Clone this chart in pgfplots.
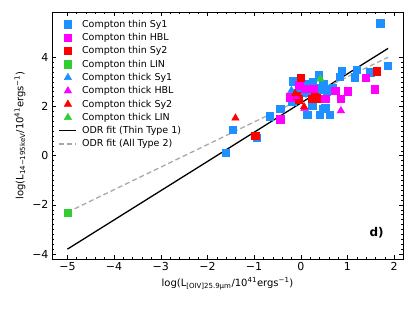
\documentclass[border=0pt]{standalone}
\usepackage{fontspec}
\setmainfont{DejaVu Sans}
\usepackage{pgfplots}
\pgfplotsset{compat=1.18}
\definecolor{cblue}{RGB}{30,144,255}
\definecolor{cmag}{RGB}{255,0,255}
\definecolor{cred}{RGB}{255,0,0}
\definecolor{cgreen}{RGB}{50,205,50}
\definecolor{cgray}{RGB}{169,169,169}
\begin{document}
\begin{tikzpicture}[x=1pt,y=1pt]
\useasboundingbox (-52,-49) rectangle (363,259);
\begin{axis}[
  at={(0,0)}, anchor=south west,
  scale only axis, width=351pt, height=247pt,
  xmin=-5.33, xmax=2.19, ymin=-4.2, ymax=5.84,
  xtick={-5,-4,-3,-2,-1,0,1,2},
  xticklabels={−5,−4,−3,−2,−1,0,1,2},
  ytick={-4,-2,0,2,4},
  yticklabels={−4,−2,0,2,4},
  minor x tick num=4, minor y tick num=9,
  tick align=inside,
  major tick length=4pt, minor tick length=2pt,
  tick style={black, line width=0.5pt},
  axis line style={line width=0.8pt},
  ticklabel style={font=\fontsize{11}{13}\selectfont},
  label style={font=\fontsize{10}{12}\selectfont},
  xlabel={log(L\textsubscript{[OIV]25.9μm}/10\textsuperscript{41}ergs\textsuperscript{−1})},
  ylabel={log(L\textsubscript{14−195keV}/10\textsuperscript{41}ergs\textsuperscript{−1})},
  legend style={at={(0.01,0.985)}, anchor=north west, draw=none, fill=none,
    font=\fontsize{9.5}{10}\selectfont, row sep=0.6pt,
    /tikz/every odd column/.append style={column sep=3pt}},
  legend cell align=left,
  clip=false,
]
% Compton thin Sy1
\addplot[only marks, mark=square*, mark size=3.7pt, color=cblue] coordinates {
(1.70,5.38) (1.86,3.66) (-1.61,0.11) (-1.46,1.06) (-0.94,0.72) (-0.67,1.60)
(-0.44,1.92) (-0.16,3.03) (0.38,3.28) (0.25,2.03) (0.14,1.67) (0.41,1.67)
(0.52,1.94) (0.62,1.67) (0.59,2.70) (0.84,3.21) (0.88,3.45) (1.20,3.50)
(1.16,3.19) (1.49,3.39) (-0.18,2.20) (0.05,2.55) (0.16,2.93) (0.26,2.99)
(0.48,2.93) (0.10,2.80) (0.35,2.75) (0.45,2.70) (0.41,2.32) (0.23,2.05)
(-0.12,2.55) (0.20,2.65) (0.55,2.62) (0.68,2.75) (0.48,1.90)
};
\addlegendentry{Compton thin Sy1}
% Compton thin HBL
\addplot[only marks, mark=square*, mark size=3.7pt, color=cmag] coordinates {
(-0.44,1.49) (-0.24,2.35) (-0.03,2.87) (0.27,2.72) (0.09,2.72) (0.52,2.31)
(0.74,2.64) (0.86,2.31) (1.00,2.62) (1.39,3.16) (1.59,2.71) (-0.23,2.37)
};
\addlegendentry{Compton thin HBL}
% Compton thin Sy2
\addplot[only marks, mark=square*, mark size=3.7pt, color=cred] coordinates {
(-0.98,0.81) (0.00,3.17) (-0.09,2.44) (0.24,2.31) (0.33,2.33) (1.63,3.43)
(0.30,2.40) (-0.05,2.30)
};
\addlegendentry{Compton thin Sy2}
% Compton thin LIN
\addplot[only marks, mark=square*, mark size=3.7pt, color=cgreen] coordinates {
(-5.00,-2.32)
};
\addlegendentry{Compton thin LIN}
% Compton thick Sy1
\addplot[only marks, mark=triangle*, mark size=4.3pt, color=cblue] coordinates {
(-0.20,2.65)
};
\addlegendentry{Compton thick Sy1}
% Compton thick HBL
\addplot[only marks, mark=triangle*, mark size=4.3pt, color=cmag] coordinates {
(-0.10,2.40) (0.86,1.83) (0.08,1.92)
};
\addlegendentry{Compton thick HBL}
% Compton thick Sy2
\addplot[only marks, mark=triangle*, mark size=4.3pt, color=cred] coordinates {
(-1.40,1.53) (0.07,1.99) (-0.12,2.52)
};
\addlegendentry{Compton thick Sy2}
% Compton thick LIN
\addplot[only marks, mark=triangle*, mark size=4.3pt, color=cgreen] coordinates {
(0.42,3.12)
};
\addlegendentry{Compton thick LIN}
\addplot[black, line width=1.3pt, no marks] coordinates {(-5.0,-3.80) (1.87,4.36)};
\addlegendentry{ODR fit (Thin Type 1)}
\addplot[cgray, line width=1.3pt, dashed, dash pattern=on 5pt off 3pt, no marks] coordinates {(-5.0,-2.30) (1.87,4.00)};
\addlegendentry{ODR fit (All Type 2)}
\node[font=\bfseries\fontsize{12}{14}\selectfont] at (rel axis cs:0.925,0.105) {d)};
\end{axis}
\end{tikzpicture}
\end{document}
